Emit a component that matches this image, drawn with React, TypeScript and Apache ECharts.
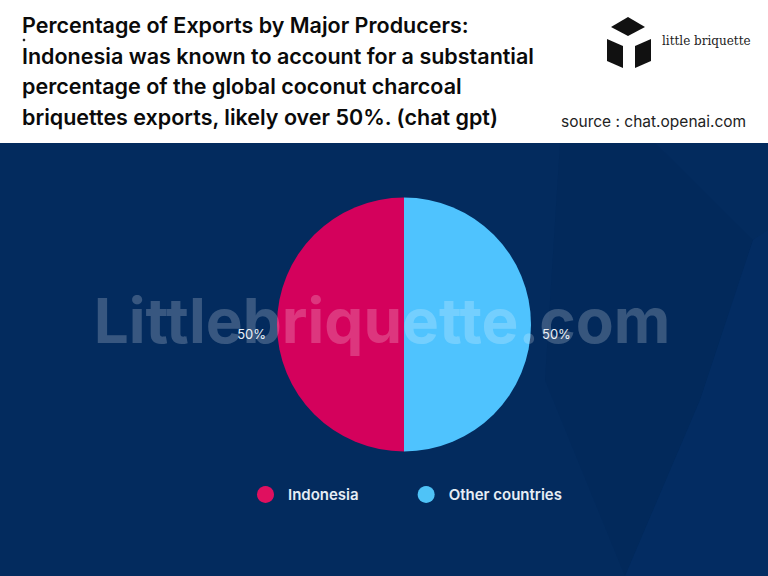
import React, { useEffect, useRef } from "react";
import * as echarts from "echarts";

const categories = ["Indonesia", "Other countries"];
const values = [50, 50];
const colors = ["#d4015c", "#4fc3fe"];
const legendColors = ["#e0105f", "#4fc3f7"];

const titleLines = [
  "Percentage of Exports by Major Producers:",
  "Indonesia was known to account for a substantial",
  "percentage of the global coconut charcoal",
  "briquettes exports, likely over 50%. (chat gpt)",
];
const sourceText = "source : chat.openai.com";
const brandText = "little briquette";
const watermarkText = "Littlebriquette.com";

export default function App() {
  const ref = useRef<HTMLDivElement>(null);
  useEffect(() => {
    if (!ref.current) return;
    const chart = echarts.init(ref.current, undefined, { renderer: "svg" });
    const titleFont = "Inter, 'Open Sans', sans-serif";
    chart.setOption({
      animation: false,
      backgroundColor: "#032b5e",
      legend: {
        data: categories.map((c, i) => ({ name: c, itemStyle: { color: legendColors[i] } })),
        bottom: 68,
        left: 252,
        icon: "circle",
        itemWidth: 17,
        itemHeight: 17,
        itemGap: 59,
        textStyle: {
          color: "#e6edf5",
          fontSize: 15,
          fontWeight: 600,
          fontFamily: titleFont,
          padding: [0, 0, 0, 9],
        },
      },
      graphic: [
        { type: "rect", shape: { x: 0, y: 0, width: 768, height: 143 }, style: { fill: "#ffffff" }, z: -10 },
        {
          type: "polygon",
          shape: { points: [[560, 143], [655, 143], [753, 240], [700, 400], [625, 576], [545, 380]] },
          style: { fill: "#02295b" },
          z: -9,
        },
        {
          type: "polygon",
          shape: { points: [[700, 400], [753, 240], [768, 230], [768, 576], [625, 576]] },
          style: { fill: "#04306a", opacity: 0.4 },
          z: -9,
        },
        ...titleLines.map((t, i) => ({
          type: "text",
          left: 22,
          top: 14 + i * 30.5,
          style: { text: t, fill: "#0a0a0a", font: `600 21.5px ${titleFont}` },
        })),
        { type: "circle", shape: { cx: 24, cy: 40, r: 1.3 }, style: { fill: "#222" } },
        { type: "polygon", shape: { points: [[611, 27], [628, 17], [645, 27], [628, 36]] }, style: { fill: "#111" } },
        { type: "polygon", shape: { points: [[607, 39], [623, 46], [623, 68], [607, 61]] }, style: { fill: "#111" } },
        { type: "polygon", shape: { points: [[651, 39], [635, 46], [635, 68], [651, 61]] }, style: { fill: "#111" } },
        {
          type: "text",
          left: 662,
          top: 35,
          style: { text: brandText, fill: "#222", font: "12px 'DejaVu Serif', serif" },
        },
        {
          type: "text",
          left: 561,
          top: 113,
          style: { text: sourceText, fill: "#222", font: `15.5px ${titleFont}` },
        },
        {
          type: "text",
          x: 382,
          y: 320,
          z: 100,
          style: {
            text: watermarkText,
            fill: "rgba(255,255,255,0.21)",
            font: `bold 62px ${titleFont}`,
            align: "center",
            verticalAlign: "middle",
          },
        },
      ],
      series: [
        {
          type: "pie",
          center: [404, 324.5],
          radius: 127,
          startAngle: 90,
          clockwise: false,
          data: categories.map((c, i) => ({ name: c, value: values[i], itemStyle: { color: colors[i] } })),
          label: {
            show: true,
            position: "outside",
            formatter: "{p|{d}%}",
            rich: {
              p: {
                color: "#e8eef5",
                fontSize: 13,
                fontFamily: titleFont,
                padding: [18, 0, 0, 0],
              },
            },
          },
          labelLine: { show: false, length: 6, length2: 0 },
          emphasis: { disabled: true },
        },
      ],
    });
    return () => chart.dispose();
  }, []);
  return (
    <div
      ref={ref}
      style={{ position: "fixed", left: 0, top: 0, width: 768, height: 576 }}
    />
  );
}
